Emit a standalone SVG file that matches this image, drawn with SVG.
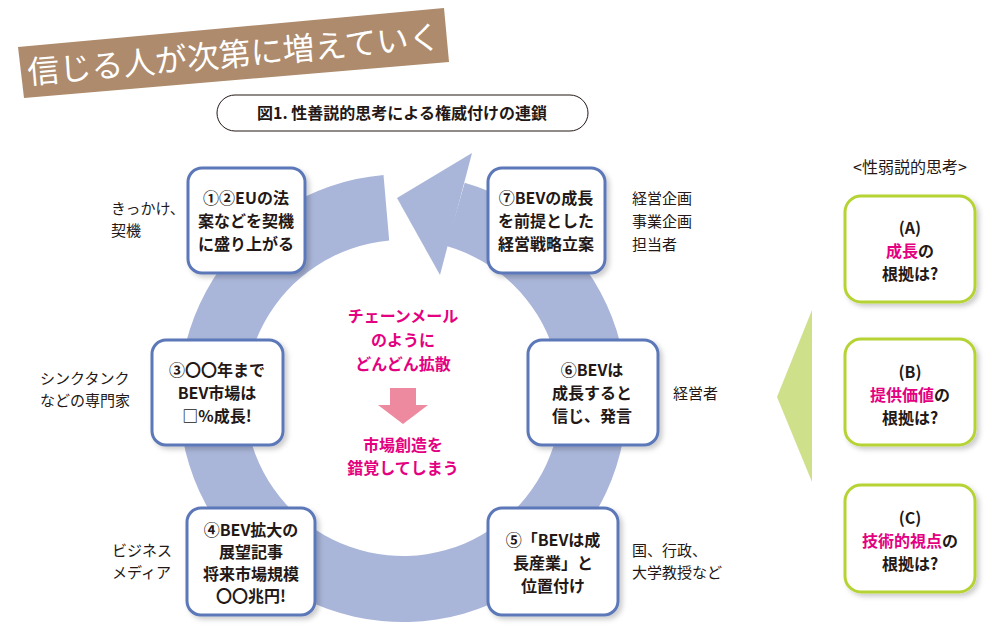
<svg xmlns="http://www.w3.org/2000/svg" width="1000" height="634" viewBox="0 0 1000 634">
<defs>
<style>
text{font-family:"Noto Sans CJK JP","Noto Sans",sans-serif;text-anchor:middle;fill:#231815}
.b{font-weight:bold;font-size:16px}
.l{font-size:15px;text-anchor:start}
.p{fill:#e4007f}
.nb{fill:#fff;stroke:#5b78b8;stroke-width:3}
.ng{fill:#fff;stroke:#b5d334;stroke-width:3}
</style>
<filter id="sh" x="-10%" y="-10%" width="130%" height="130%"><feDropShadow dx="3" dy="3" stdDeviation="2.5" flood-color="#000" flood-opacity="0.2"/></filter>
</defs>
<rect width="1000" height="634" fill="#fff"/>
<g id="banner">
<polygon points="18,47 444,8 449,62 24,98" fill="#ad8b6c"/>
<text x="234" y="66" transform="rotate(-5 234 55)" style="font-size:32px;fill:#fff;font-family:'Noto Sans CJK JP',serif">信じる人が次第に増えていく</text>
</g>
<g id="title">
<rect x="217" y="95" width="371" height="36" rx="18" fill="#fff" stroke="#231815" stroke-width="1"/>
<text x="402" y="119" class="b">図1. 性善説的思考による権威付けの連鎖</text>
</g>
<g id="connectors">
<path d="M464.7,182.7 A224,224 0 1 1 383.5,174.9 L389.2,240.6 A158,158 0 1 0 446.5,246.1 Z" fill="#aab6d9"/>
<polygon points="472,153 397,198 440,275" fill="#aab6d9"/>
<polygon points="390,388 416,388 416,405 428,405 403,424 378,405 390,405" fill="#ee8aa0"/>
<polygon points="812,310 777,397 812,482" fill="#cfe08a"/>
</g>
<g id="n1"><rect x="188" y="168" width="117" height="105" rx="14" class="nb" filter="url(#sh)"/>
<text class="b" x="246" y="204">①②EUの法</text><text class="b" x="246" y="227">案などを契機</text><text class="b" x="246" y="250">に盛り上がる</text></g>
<g id="l1"><text class="l" x="111" y="214">きっかけ、</text><text class="l" x="111" y="236">契機</text></g>
<g id="n7"><rect x="488" y="168" width="117" height="105" rx="14" class="nb" filter="url(#sh)"/>
<text class="b" x="546" y="204">⑦BEVの成長</text><text class="b" x="546" y="227">を前提とした</text><text class="b" x="546" y="250">経営戦略立案</text></g>
<g id="l7"><text class="l" x="632" y="204">経営企画</text><text class="l" x="632" y="227">事業企画</text><text class="l" x="632" y="250">担当者</text></g>
<g id="n3"><rect x="152" y="340" width="131" height="105" rx="14" class="nb" filter="url(#sh)"/>
<text class="b" x="217" y="376">③〇〇年まで</text><text class="b" x="217" y="399">BEV市場は</text><text class="b" x="217" y="422">□%成長!</text></g>
<g id="l3"><text class="l" x="40" y="384">シンクタンク</text><text class="l" x="40" y="406">などの専門家</text></g>
<g id="n6"><rect x="528" y="340" width="130" height="105" rx="14" class="nb" filter="url(#sh)"/>
<text class="b" x="592" y="376">⑥BEVは</text><text class="b" x="592" y="399">成長すると</text><text class="b" x="592" y="422">信じ、発言</text></g>
<g id="l6"><text class="l" x="673" y="399">経営者</text></g>
<g id="n4"><rect x="187" y="508" width="128" height="107" rx="14" class="nb" filter="url(#sh)"/>
<text class="b" x="251" y="536">④BEV拡大の</text><text class="b" x="251" y="558">展望記事</text><text class="b" x="251" y="580">将来市場規模</text><text class="b" x="251" y="602">〇〇兆円!</text></g>
<g id="l4"><text class="l" x="112" y="556">ビジネス</text><text class="l" x="112" y="578">メディア</text></g>
<g id="n5"><rect x="488" y="508" width="130" height="107" rx="14" class="nb" filter="url(#sh)"/>
<text class="b" x="553" y="546">⑤「BEVは成</text><text class="b" x="553" y="569">長産業」と</text><text class="b" x="553" y="592">位置付け</text></g>
<g id="l5"><text class="l" x="632" y="556">国、行政、</text><text class="l" x="632" y="578">大学教授など</text></g>
<g id="center">
<text class="b p" x="403" y="322">チェーンメール</text><text class="b p" x="403" y="346">のように</text><text class="b p" x="403" y="370">どんどん拡散</text>
<text class="b p" x="403" y="451">市場創造を</text><text class="b p" x="403" y="474">錯覚してしまう</text>
</g>
<g id="rhead"><text x="910" y="173" style="font-size:16px">&lt;性弱説的思考&gt;</text></g>
<g id="nA"><rect x="845" y="196" width="130" height="106" rx="16" class="ng" filter="url(#sh)"/>
<text class="b" x="910" y="234">(A)</text><text class="b" x="910" y="257"><tspan class="p">成長</tspan>の</text><text class="b" x="910" y="280">根拠は?</text></g>
<g id="nB"><rect x="845" y="339" width="130" height="106" rx="16" class="ng" filter="url(#sh)"/>
<text class="b" x="910" y="378">(B)</text><text class="b" x="910" y="401"><tspan class="p">提供価値</tspan>の</text><text class="b" x="910" y="424">根拠は?</text></g>
<g id="nC"><rect x="845" y="485" width="130" height="107" rx="16" class="ng" filter="url(#sh)"/>
<text class="b" x="910" y="524">(C)</text><text class="b" x="910" y="547"><tspan class="p">技術的視点</tspan>の</text><text class="b" x="910" y="570">根拠は?</text></g>
</svg>
